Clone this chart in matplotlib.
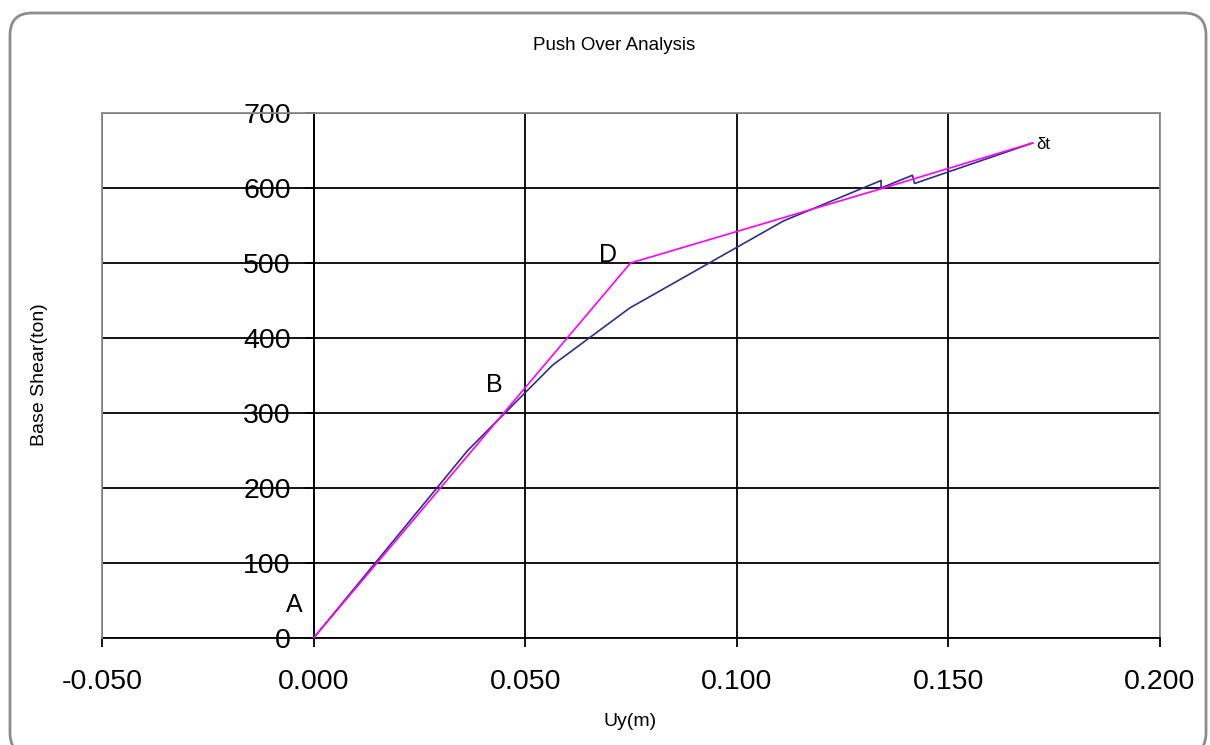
import matplotlib
matplotlib.use("Agg")
import matplotlib.pyplot as plt
from matplotlib.patches import FancyBboxPatch
from matplotlib.transforms import IdentityTransform

plt.rcParams['font.family'] = ['Liberation Sans', 'DejaVu Sans']

# pushover curve from analysis (blue)
uy_pushover = [0.0, 0.0364, 0.0565, 0.0747, 0.111, 0.1341, 0.1341, 0.1415, 0.1420, 0.1699]
v_pushover = [0, 250, 364, 440, 556, 610, 600, 617, 606, 660]

# idealised bilinear curve (magenta)
uy_ideal = [0.0, 0.0749, 0.1341, 0.1699]
v_ideal = [0, 500, 599, 660]

x_ticks = [-0.05, 0.0, 0.05, 0.10, 0.15, 0.20]
y_ticks = [0, 100, 200, 300, 400, 500, 600, 700]

point_labels = ["A", "B", "D"]
point_x = [-0.0045, 0.0428, 0.0695]
point_y = [44, 337, 511]

W, H = 1210, 745
fig = plt.figure(figsize=(W / 100, H / 100), dpi=100)

# rounded chart border
border = FancyBboxPatch((10, -10), 1196, H - 13 + 10,
                        boxstyle="round,pad=0,rounding_size=22",
                        transform=IdentityTransform(), fill=False,
                        edgecolor="#8c8c8c", linewidth=2, clip_on=False)
fig.patches.append(border)

ax = fig.add_axes([102 / W, (H - 638) / H, (1160 - 102) / W, (638 - 113) / H])
ax.set_xlim(-0.05, 0.2)
ax.set_ylim(0, 700)

ax.plot(uy_pushover, v_pushover, color="#2e2e8a", lw=1.2, zorder=3)
ax.plot(uy_ideal, v_ideal, color="#ff00ff", lw=1.2, zorder=4)

for lab, px, py in zip(point_labels, point_x, point_y):
    ax.text(px, py, lab, fontsize=18, ha="center", va="center")
ax.text(0.1708, 658, "δt", fontsize=12, ha="left", va="center")

ax.set_xticks(x_ticks)
ax.set_xticklabels(["%.3f" % v for v in x_ticks])
ax.set_yticks(y_ticks)
ax.grid(True, color="black", lw=1.3)
ax.set_axisbelow(True)

ax.spines["left"].set_position(("data", 0))
ax.spines["left"].set_color("black")
ax.spines["left"].set_linewidth(1.3)
ax.spines["bottom"].set_color("black")
ax.spines["bottom"].set_linewidth(1.3)
for s in ["top", "right"]:
    ax.spines[s].set_color("#8c8c8c")
    ax.spines[s].set_linewidth(1.3)
ax.axvline(-0.05, color="#8c8c8c", lw=1.3, zorder=2.6, clip_on=False)

ax.tick_params(axis="x", direction="out", length=6.5, width=1.3, pad=16, labelsize=20.5)
ax.tick_params(axis="y", direction="out", length=6.5, width=1.3, pad=10, labelsize=20.5)

fig.text(614 / W, 1 - 46 / H, "Push Over Analysis", fontsize=13.5, ha="center", va="center")
fig.text(630 / W, 1 - 721 / H, "Uy(m)", fontsize=14, ha="center", va="center")
fig.text(40 / W, 1 - 375 / H, "Base Shear(ton)", fontsize=14, ha="center", va="center", rotation=90)

fig.savefig("out.png", dpi=100)
